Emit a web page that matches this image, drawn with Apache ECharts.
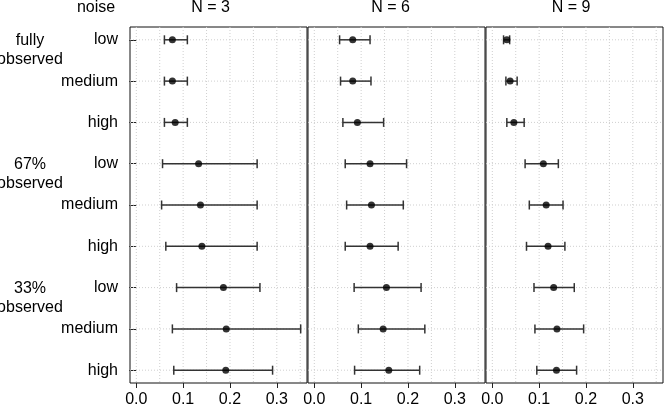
<!DOCTYPE html>
<html><head><meta charset="utf-8">
<script src="https://cdn.jsdelivr.net/npm/echarts@6/dist/echarts.min.js"></script>
<style>html,body{margin:0;padding:0;background:#fff}#c{width:664px;height:408px}</style>
</head><body><div id="c"></div>
<script>
// ---- data ----
const panelTitles = ['N = 3', 'N = 6', 'N = 9'];
const noiseLevels = ['low', 'medium', 'high'];
const groupLabels = ['fully\nobserved', '67%\nobserved', '33%\nobserved'];
const rowIndex = [1, 2, 3, 4, 5, 6, 7, 8, 9];
const xTickValues = [0, 0.1, 0.2, 0.3];
const xGridValues = [0, 0.05, 0.1, 0.15, 0.2, 0.25, 0.3, 0.35];

const n3Mean = [0.077, 0.077, 0.083, 0.133, 0.137, 0.140, 0.186, 0.192, 0.191];
const n3Lo   = [0.060, 0.060, 0.060, 0.056, 0.054, 0.063, 0.086, 0.077, 0.080];
const n3Hi   = [0.109, 0.109, 0.109, 0.258, 0.258, 0.258, 0.264, 0.351, 0.291];

const n6Mean = [0.082, 0.082, 0.092, 0.119, 0.122, 0.119, 0.154, 0.147, 0.159];
const n6Lo   = [0.054, 0.056, 0.061, 0.066, 0.069, 0.066, 0.085, 0.094, 0.086];
const n6Hi   = [0.119, 0.121, 0.148, 0.197, 0.190, 0.179, 0.228, 0.236, 0.225];

const n9Mean = [0.031, 0.038, 0.046, 0.109, 0.115, 0.119, 0.131, 0.138, 0.137];
const n9Lo   = [0.024, 0.029, 0.031, 0.070, 0.079, 0.073, 0.089, 0.091, 0.095];
const n9Hi   = [0.037, 0.053, 0.068, 0.141, 0.151, 0.155, 0.175, 0.195, 0.180];

// ---- chart ----
const panels = [
  {mean: n3Mean, lo: n3Lo, hi: n3Hi},
  {mean: n6Mean, lo: n6Lo, hi: n6Hi},
  {mean: n9Mean, lo: n9Lo, hi: n9Hi}
];
const FONT = '"Liberation Sans", Arial, Helvetica, sans-serif';
const gridLefts = [130, 308, 486];
const titleX = [210.5, 390.5, 571];

const chart = echarts.init(document.getElementById('c'), null, {renderer: 'canvas'});

const grids = [], xAxes = [], yAxes = [], series = [];
panels.forEach((p, i) => {
  grids.push({left: gridLefts[i], width: 177, top: 27, bottom: 24,
    show: true, borderColor: '#111', borderWidth: 1, backgroundColor: 'transparent'});
  xAxes.push({type: 'value', gridIndex: i, min: -0.0135, max: 0.3645,
    axisLine: {show: false},
    splitLine: {show: false},
    axisTick: {show: true, customValues: xTickValues, length: 5, lineStyle: {color: '#222'}},
    axisLabel: {show: true, customValues: xTickValues, margin: 9, color: '#000',
      fontSize: 16, fontFamily: FONT, formatter: v => v.toFixed(1)}
  });
  yAxes.push({type: 'value', gridIndex: i, inverse: true, min: 0.69, max: 9.31,
    axisLine: {show: false},
    splitLine: {show: false},
    axisTick: {show: i === 0, customValues: rowIndex, length: 7, lineStyle: {color: '#222'}},
    axisLabel: {show: i === 0, customValues: rowIndex, margin: 12, color: '#000',
      fontSize: 16, fontFamily: FONT, formatter: v => noiseLevels[(Math.round(v) - 1) % 3]}
  });
  // dotted reference grid
  series.push({type: 'custom', xAxisIndex: i, yAxisIndex: i, z: 1, silent: true,
    data: xGridValues.map(v => [v]),
    encode: {x: 0},
    renderItem: (params, api) => {
      const cs = params.coordSys;
      const x = api.coord([api.value(0), 1])[0];
      return {type: 'line', shape: {x1: x, y1: cs.y, x2: x, y2: cs.y + cs.height},
        style: {stroke: '#cfcfcf', lineWidth: 1, lineDash: [1, 2]}};
    }
  });
  series.push({type: 'custom', xAxisIndex: i, yAxisIndex: i, z: 1, silent: true,
    data: rowIndex.map(r => [r]),
    encode: {y: 0},
    renderItem: (params, api) => {
      const cs = params.coordSys;
      const y = api.coord([0, api.value(0)])[1];
      return {type: 'line', shape: {x1: cs.x, y1: y, x2: cs.x + cs.width, y2: y},
        style: {stroke: '#cfcfcf', lineWidth: 1, lineDash: [1, 2]}};
    }
  });
  // error bars
  series.push({type: 'custom', xAxisIndex: i, yAxisIndex: i, z: 3, silent: true,
    data: rowIndex.map((r, k) => [r, p.lo[k], p.hi[k]]),
    encode: {y: 0, x: [1, 2]},
    renderItem: (params, api) => {
      const y = api.value(0);
      const a = api.coord([api.value(1), y]), b = api.coord([api.value(2), y]);
      const h = 4.5;
      const st = {stroke: '#333', lineWidth: 1.5, fill: null};
      return {type: 'group', children: [
        {type: 'line', shape: {x1: a[0], y1: a[1], x2: b[0], y2: b[1]}, style: st},
        {type: 'line', shape: {x1: a[0], y1: a[1] - h, x2: a[0], y2: a[1] + h}, style: st},
        {type: 'line', shape: {x1: b[0], y1: b[1] - h, x2: b[0], y2: b[1] + h}, style: st}
      ]};
    }
  });
  // points
  series.push({type: 'scatter', xAxisIndex: i, yAxisIndex: i, z: 4, silent: true,
    symbol: 'circle', symbolSize: 7, itemStyle: {color: '#000'},
    data: rowIndex.map((r, k) => [p.mean[k], r])
  });
});

chart.setOption({
  animation: false,
  backgroundColor: '#fff',
  grid: grids, xAxis: xAxes, yAxis: yAxes, series: series
});

// header and group texts
const graphics = [];
graphics.push({type: 'text', x: 96, y: 8, style: {text: 'noise', font: '16px ' + FONT,
  fill: '#000', textAlign: 'center', textVerticalAlign: 'middle'}});
panelTitles.forEach((t, i) => {
  graphics.push({type: 'text', x: titleX[i], y: 8, style: {text: t, font: '16px ' + FONT,
    fill: '#000', textAlign: 'center', textVerticalAlign: 'middle'}});
});
groupLabels.forEach((t, g) => {
  const y = chart.convertToPixel({yAxisIndex: 0}, rowIndex[g * 3]);
  graphics.push({type: 'text', x: 30, y: y - 8, style: {text: t, font: '16px ' + FONT,
    fill: '#000', textAlign: 'center', textVerticalAlign: 'top', lineHeight: 18.5}});
});
chart.setOption({graphic: graphics});
</script>
</body></html>
